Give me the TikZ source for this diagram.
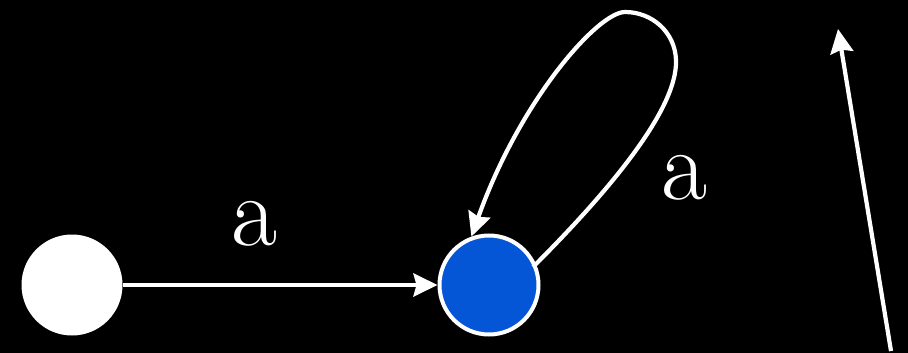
\documentclass[tikz,border=0pt]{standalone}
\usetikzlibrary{arrows.meta}
\definecolor{stateblue}{RGB}{4,86,214}
\begin{document}
\begin{tikzpicture}[x=1pt,y=-1pt,
  edge/.style={draw=white,line width=4.2pt,-{Stealth[length=24pt,width=23pt,inset=3pt]}},
  lbl/.style={text=white,font=\fontsize{100}{100}\selectfont,inner sep=0pt},
  st/.style={circle,minimum size=101pt,inner sep=0pt}]
\fill[black] (0,0) rectangle (908,353);
\useasboundingbox (0,0) rectangle (908,353);
\node[st,fill=white] (s0) at (72,285) {};
\node[st,fill=stateblue,draw=white,line width=4pt,minimum size=99pt] (s1) at (489,285) {};
\draw[edge] (s0.east) -- (s1.west);
\node[lbl] (l1) at (254,224) {a};
\draw[edge] (533,267) .. controls (600,200) and (678,112) .. (676,60)
  .. controls (675,32) and (652,12) .. (625,12)
  .. controls (598,12) and (520,100) .. (s1.110);
\node[lbl] (l2) at (684,178) {a};
\coordinate (p0) at (891,351);
\coordinate (p1) at (838,29);
\draw[edge] (p0) -- (p1);
\end{tikzpicture}
\end{document}
